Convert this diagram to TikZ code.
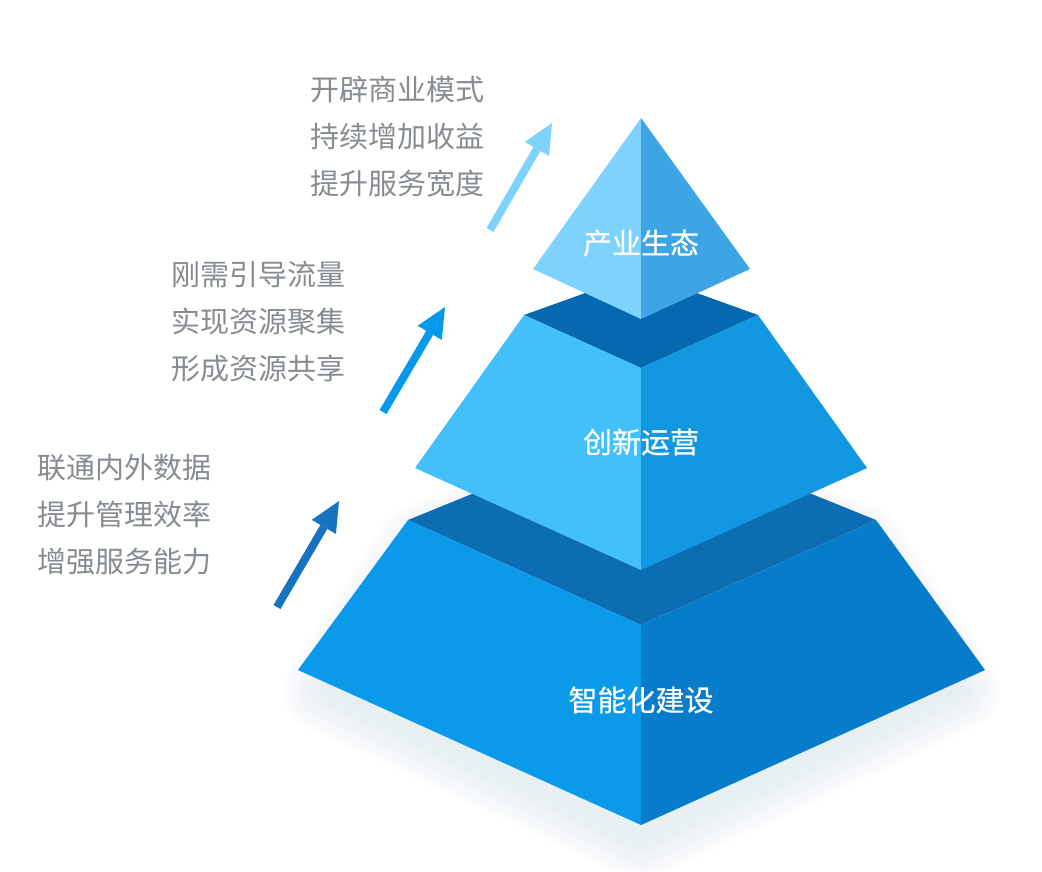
\documentclass[tikz,border=0pt]{standalone}
\usepackage{fontspec}
\newfontfamily\cjk{Noto Sans CJK SC}
\newfontfamily\cjkthick{Noto Sans CJK SC}[FakeBold=0.6]
\usetikzlibrary{arrows.meta}
\definecolor{capleft}{HTML}{7DD3FD}
\definecolor{capright}{HTML}{3DA4E5}
\definecolor{midtop}{HTML}{0469AF}
\definecolor{midleft}{HTML}{43C0FA}
\definecolor{midright}{HTML}{1198E1}
\definecolor{basetop}{HTML}{0D6DB2}
\definecolor{baseleft}{HTML}{0A9AE9}
\definecolor{baseright}{HTML}{067CCB}
\definecolor{arrowdark}{HTML}{1772C0}
\definecolor{arrowmid}{HTML}{0599EB}
\definecolor{notegray}{HTML}{878C91}
\definecolor{glow}{HTML}{B6C6EC}
\newcommand{\quadface}[5]{ \fill[#1] ( #2 ) -- ( #3 ) -- ( #4 ) -- ( #5 ) -- cycle;}
\newcommand{\triface}[4]{ \fill[#1] ( #2 ) -- ( #3 ) -- ( #4 ) -- cycle;}

\begin{document}
\begin{tikzpicture}[x=1pt,y=-1pt,
    note/.style={anchor=west, align=left, inner sep=0pt, text=notegray,
      font=\cjk\fontsize{29}{47}\selectfont},
    tier/.style={inner sep=0pt, text=white, font=\cjkthick\fontsize{29}{35}\selectfont},
    uparrow/.style={line width=8pt, -{Triangle[length=30pt,width=28pt,line width=0pt]}}]
        \fill[white] (0,0) rectangle (1042,871);
        \useasboundingbox (0,0) rectangle (1042,871);
        % glow under the base
        \foreach \w in {6,12,...,84}
          \draw[glow, opacity=0.018, line width=\w pt, line join=round]
            (325,690) -- (420,545) -- (641,460) -- (862,545) -- (958,690) -- (641,838) -- cycle;
        % base
        \quadface{basetop}{408,520}{641,425}{876,520}{641,625}
        \quadface{baseleft}{408,520}{298,670}{641,825}{641,625}
        \quadface{baseright}{641,625}{641,825}{985,670}{876,520}
        % middle
        \quadface{midtop}{524,315}{641,273}{758,315}{641,368}
        \quadface{midleft}{524,315}{415,468}{641,570}{641,368}
        \quadface{midright}{641,368}{641,570}{867,468}{758,315}
        % cap
        \triface{capleft}{641,118}{533,269}{641,319}
        \triface{capright}{641,118}{641,319}{750,269}
        % labels on the tiers
        \node[tier] (cap) at (641,243) {产业生态};
        \node[tier] (mid) at (641,442) {创新运营};
        \node[tier] (base) at (641,700) {智能化建设};
        % notes
        \node[note] (notecap) at (310,137) {开辟商业模式\\持续增加收益\\提升服务宽度};
        \node[note] (notemid) at (171,322) {刚需引导流量\\实现资源聚集\\形成资源共享};
        \node[note] (notebase) at (37,515) {联通内外数据\\提升管理效率\\增强服务能力};
        % arrows
        \coordinate (a1) at (277,607);
        \coordinate (b1) at (339,501);
        \coordinate (a2) at (383,412);
        \coordinate (b2) at (445,307);
        \coordinate (a3) at (490,230);
        \coordinate (b3) at (552,123);
        \draw[uparrow, arrowdark] (a1) -- (b1);
        \draw[uparrow, arrowmid] (a2) -- (b2);
        \draw[uparrow, capleft] (a3) -- (b3);
    \end{tikzpicture}
\end{document}
